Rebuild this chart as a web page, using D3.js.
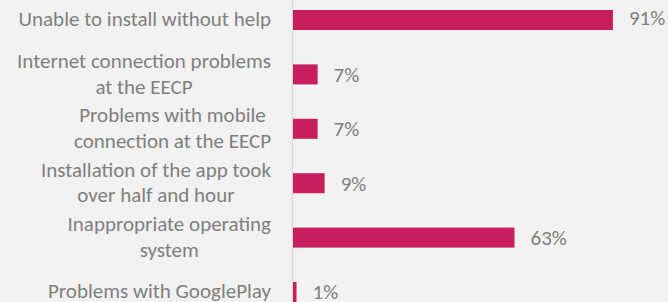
<!DOCTYPE html>
<html>
<head>
<meta charset="utf-8">
<script src="https://cdn.jsdelivr.net/npm/d3@7"></script>
<style>
  html, body { margin: 0; padding: 0; background: #f2f2f2; overflow: hidden; }
  svg { display: block; }
  text { font-family: Carlito, Calibri, Lato, sans-serif; }
</style>
</head>
<body>
<div id="chart"></div>
<script>
const categories = [
  'Unable to install without help',
  'Internet connection problems\nat the EECP',
  'Problems with mobile\nconnection at the EECP',
  'Installation of the app took\nover half and hour',
  'Inappropriate operating\nsystem',
  'Problems with GooglePlay'
]
const shares = [91, 7, 7, 9, 63, 1]

const widthD3 = 668
const heightD3 = 302
const axisX = 293
const labelRight = 271
const fontSize = 21
const lineHeight = 25.5
const barColor = '#c81e5e'
const textColor = '#7f7f7f'

const svg = d3.select('#chart').append('svg')
    .attr('width', widthD3)
    .attr('height', heightD3)

svg.append('rect')
    .attr('width', widthD3)
    .attr('height', heightD3)
    .attr('fill', '#f2f2f2')

const xScale = d3.scaleLinear()
    .domain([0, 100])
    .range([axisX, axisX + 351.6])

// step ~54.4px, bar 20px; the last row runs off the bottom like the crop
const yScale = d3.scaleBand()
    .domain(categories)
    .range([-7.2, 319.2])
    .paddingInner(0.632)
    .paddingOuter(0.316)

// category axis line
svg.append('line')
    .attr('x1', axisX - 0.5)
    .attr('x2', axisX - 0.5)
    .attr('y1', 0)
    .attr('y2', heightD3)
    .attr('stroke', '#d9d9d9')
    .attr('stroke-width', 1.5)

svg.append('g')
    .selectAll('rect')
    .data(shares)
    .enter()
    .append('rect')
    .attr('x', xScale(0))
    .attr('y', (d, i) => yScale(categories[i]))
    .attr('width', d => xScale(d) - xScale(0))
    .attr('height', yScale.bandwidth())
    .attr('fill', barColor)

svg.append('g')
    .selectAll('text')
    .data(shares)
    .enter()
    .append('text')
    .attr('x', d => xScale(d) + 16)
    .attr('y', (d, i) => yScale(categories[i]) + yScale.bandwidth() / 2 - (i === 0 ? 2 : 0))
    .attr('dy', '0.35em')
    .attr('font-size', fontSize)
    .attr('fill', textColor)
    .text(d => d + '%')

// wrapped labels: block right-aligned, each line centred inside the block
const labels = svg.append('g')
categories.forEach(cat => {
    const lines = cat.split('\n')
    const cy = yScale(cat) + yScale.bandwidth() / 2 - 1
    const g = labels.append('g')
    const texts = lines.map((line, k) => g.append('text')
        .attr('font-size', fontSize)
        .attr('fill', textColor)
        .attr('text-anchor', 'middle')
        .attr('y', cy + (k - (lines.length - 1) / 2) * lineHeight)
        .attr('dy', '0.35em')
        .text(line))
    const maxW = d3.max(texts, t => t.node().getComputedTextLength())
    texts.forEach(t => t.attr('x', labelRight - maxW / 2))
})
</script>
</body>
</html>
